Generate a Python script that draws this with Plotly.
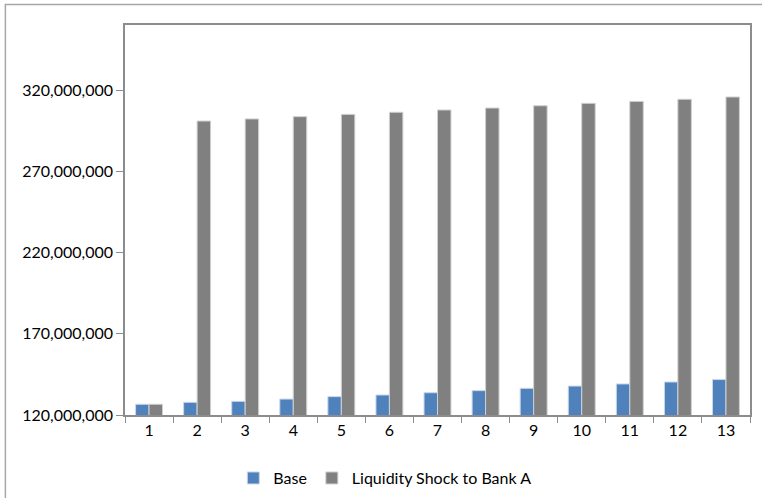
import plotly.graph_objects as go

# Periods on the category axis
periods = [str(i) for i in range(1, 14)]

# Series values
base = [126.6e6, 127.8e6, 128.4e6, 129.8e6, 131.3e6, 132.3e6, 133.7e6,
        135.0e6, 136.4e6, 137.8e6, 139.1e6, 140.3e6, 141.8e6]
shock = [126.6e6, 300.9e6, 302.2e6, 303.6e6, 305.0e6, 306.3e6, 307.7e6,
         308.9e6, 310.3e6, 311.8e6, 313.0e6, 314.3e6, 315.7e6]

# Value axis ticks
y_ticks = [120e6, 170e6, 220e6, 270e6, 320e6]
y_tick_text = ["120,000,000", "170,000,000", "220,000,000", "270,000,000", "320,000,000"]

FONT = "Lato, 'Open Sans', sans-serif"
AXIS_GRAY = "#8c8c8c"

fig = go.Figure()
fig.add_trace(go.Bar(
    x=periods, y=base, name="Base",
    marker=dict(color="#4F81BD", line=dict(color="#c9d6e8", width=1)),
))
fig.add_trace(go.Bar(
    x=periods, y=shock, name="Liquidity Shock to Bank A",
    marker=dict(color="#808080", line=dict(color="#d0d0d0", width=1)),
))

W, H = 762, 498
L, R, T, B = 125, 10, 25, 83
pw, ph = W - L - R, H - T - B

# Outer chart frame (continues past the right and bottom page edges)
frame_left_px, frame_top_px = 5, 4.5
fig.add_shape(
    type="rect", xref="paper", yref="paper",
    x0=(frame_left_px - L) / pw, x1=(W + 10 - L) / pw,
    y0=-(B + 10) / ph, y1=1 + (T - frame_top_px) / ph,
    line=dict(color="#a6a6a6", width=1.5), fillcolor="rgba(0,0,0,0)", layer="below",
)

fig.update_layout(
    width=W, height=H,
    margin=dict(l=L, r=R, t=T, b=B, pad=0),
    paper_bgcolor="white", plot_bgcolor="white",
    barmode="group", bargap=0.44, bargroupgap=0,
    font=dict(family=FONT, size=16, color="#000000"),
    showlegend=True,
    legend=dict(
        orientation="h", xref="container", yref="container",
        x=0.505, xanchor="center", y=0.04, yanchor="middle",
        font=dict(family=FONT, size=16, color="#000000"),
        itemwidth=30, traceorder="normal",
        bgcolor="rgba(0,0,0,0)",
    ),
    xaxis=dict(
        type="category", tickson="boundaries",
        ticks="outside", ticklen=6, tickcolor=AXIS_GRAY, tickwidth=1,
        showline=True, linecolor=AXIS_GRAY, linewidth=1.5, mirror=True,
        showgrid=False, zeroline=False,
        tickfont=dict(family=FONT, size=16),
    ),
    yaxis=dict(
        range=[120e6, 360e6],
        tickvals=y_ticks, ticktext=y_tick_text,
        ticks="outside", ticklen=7, tickcolor=AXIS_GRAY, tickwidth=1,
        showline=True, linecolor=AXIS_GRAY, linewidth=1.5, mirror=True,
        showgrid=False, zeroline=False,
        tickfont=dict(family=FONT, size=16),
    ),
)

fig.write_html("out.html")
